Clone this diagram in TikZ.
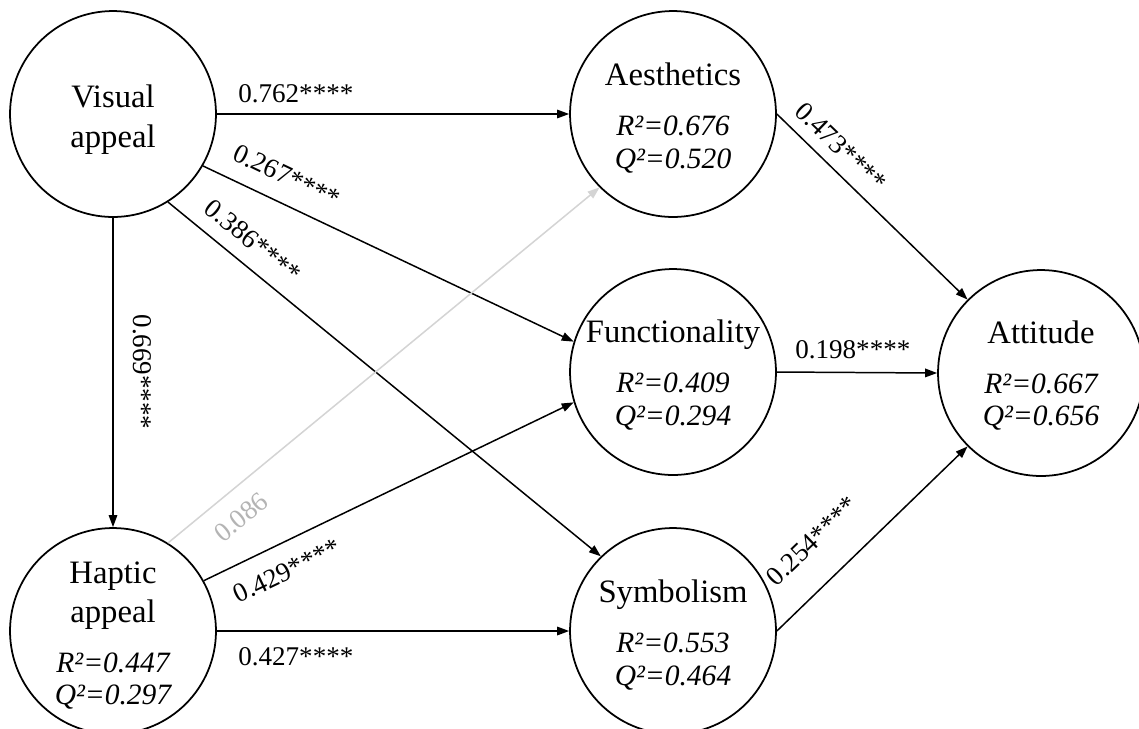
\documentclass[tikz,border=0pt]{standalone}
\usepackage{fontspec}
\setmainfont{Liberation Serif}
\usetikzlibrary{arrows.meta}
\definecolor{lightline}{HTML}{D4D4D4}
\definecolor{lighttext}{HTML}{B4B4B4}
\begin{document}
\begin{tikzpicture}[x=0.02cm, y=-0.02cm,
  latent/.style={circle, draw, line width=1pt, minimum size=4.12cm, inner sep=0pt},
  varname/.style={font=\fontsize{18.6}{21}\selectfont, anchor=base, inner sep=0pt},
  stat/.style={font=\fontsize{16.8}{19}\selectfont\itshape, anchor=base, inner sep=0pt},
  coef/.style={font=\fontsize{15.4}{18}\selectfont, inner sep=0pt},
  link/.style={line width=0.85pt, -{Triangle[length=0.24cm,width=0.17cm]}},
  weaklink/.style={link, draw=lightline, fill=lightline},
]
\useasboundingbox[fill=white] (0,0) rectangle (1139,728);

% latent constructs
\node[latent] (va) at (113,114) {};
\node[latent] (ha) at (113,631) {};
\node[latent] (ae) at (673,114) {};
\node[latent] (fu) at (673,372) {};
\node[latent] (sy) at (673,631) {};
\node[latent] (at) at (1041,373) {};

% construct names and fit statistics
\node[varname] (vaname1) at (113,107) {Visual};
\node[varname] (vaname2) at (113,147) {appeal};
\node[varname] (haname1) at (113,583) {Haptic};
\node[varname] (haname2) at (113,622) {appeal};
\node[stat] (har) at (113,672) {R²=0.447};
\node[stat] (haq) at (113,704) {Q²=0.297};

\node[varname] (aename) at (673,85) {Aesthetics};
\node[stat] (aer) at (673,135) {R²=0.676};
\node[stat] (aeq) at (673,168) {Q²=0.520};

\node[varname] (funame) at (673,342) {Functionality};
\node[stat] (fur) at (673,392) {R²=0.409};
\node[stat] (fuq) at (673,425) {Q²=0.294};

\node[varname] (syname) at (673,602) {Symbolism};
\node[stat] (syr) at (673,652) {R²=0.553};
\node[stat] (syq) at (673,685) {Q²=0.464};

\node[varname] (atname) at (1041,343) {Attitude};
\node[stat] (atr) at (1041,393) {R²=0.667};
\node[stat] (atq) at (1041,425) {Q²=0.656};

% structural paths
\draw[link] (va.east) -- (ae.west);
\draw[link] (va.-30.5) -- (fu.163.8);
\draw[link] (va.-58.8) -- (sy.134.6);
\draw[link] (va.south) -- (ha.north);
\draw[weaklink] (ha.58) -- (ae.225.8);
\draw[link] (ha.29) -- (fu.197.4);
\draw[link] (ha.east) -- (sy.west);
\draw[link] (ae.east) -- (at.135);
\draw[link] (fu.east) -- (at.west);
\draw[link] (sy.east) -- (at.225.4);

% path coefficients
\node[coef, anchor=base west] (c1) at (238,102) {0.762****};
\node[coef, rotate=-25.5] (c2) at (287,176) {0.267****};
\node[coef, rotate=-39.3] (c3) at (253,241) {0.386****};
\node[coef, rotate=-90] (c4) at (142,372) {0.669****};
\node[coef, rotate=39.3, text=lighttext] (c5) at (241,517) {0.086};
\node[coef, rotate=25.6] (c6) at (287,571) {0.429****};
\node[coef, anchor=base west] (c7) at (238,665) {0.427****};
\node[coef, anchor=base west] (c8) at (795,358) {0.198****};
\node[coef, rotate=-43.8] (c9) at (841,147) {0.473****};
\node[coef, rotate=43.8] (c10) at (812,541) {0.254****};
\end{tikzpicture}
\end{document}
